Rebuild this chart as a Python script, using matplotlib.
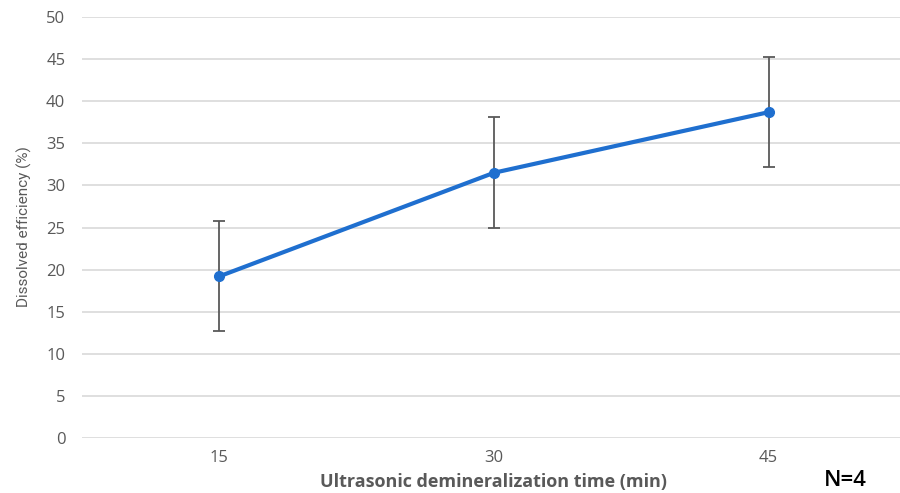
import numpy as np
import matplotlib
matplotlib.use("Agg")
from matplotlib import pyplot as plt

# data
times = ["15", "30", "45"]
efficiency = [19.2, 31.5, 38.7]
err_low = [6.5, 6.6, 6.5]
err_high = [6.6, 6.6, 6.6]

plt.rcParams['font.family'] = ['Open Sans', 'DejaVu Sans']

fig = plt.figure(figsize=(9, 4.93), dpi=100)
ax = fig.add_axes([82 / 900, 1 - 438 / 493, 824 / 900, (438 - 17) / 493])

x = np.arange(len(times))
ax.errorbar(x, efficiency, yerr=[err_low, err_high], fmt='none',
            ecolor='#595959', elinewidth=1.3, capsize=4, capthick=1.3, zorder=2)
ax.plot(x, efficiency, color='#1f6fcf', linewidth=3, marker='o', markersize=7, zorder=3)

ax.set_xlim(-0.5, 2.5)
ax.set_ylim(0, 50)
ax.set_yticks(np.arange(0, 51, 5))
ax.set_xticks(x)
ax.set_xticklabels(times)
ax.grid(axis='y', color='#d9d9d9', linewidth=1.2)
ax.set_axisbelow(True)
for s in ax.spines.values():
    s.set_visible(False)
ax.tick_params(length=0, colors='#595959', labelsize=12)
ax.tick_params(axis='y', pad=12)
ax.tick_params(axis='x', pad=9)

fig.text(24 / 900, 1 - 227 / 493, "Dissolved efficiency (%)", rotation=90,
         ha='center', va='center', fontsize=11, color='#595959',
         family=['Roboto', 'DejaVu Sans'])
fig.text(493 / 900, 1 - 482 / 493, "Ultrasonic demineralization time (min)",
         ha='center', va='center', fontsize=13, fontweight='bold', color='#595959')
fig.text(845 / 900, 1 - 480 / 493, "N=4", ha='center', va='center',
         fontsize=16, fontweight='semibold', color='black')

fig.savefig("out.png", dpi=100)
